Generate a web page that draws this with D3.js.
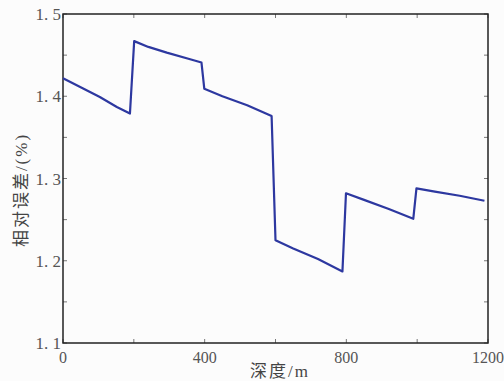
<!DOCTYPE html>
<html>
<head>
<meta charset="utf-8">
<script src="https://cdn.jsdelivr.net/npm/d3@7"></script>
<style>
  html, body { margin: 0; padding: 0; background: #fcfcfc; }
  svg { display: block; }
  text { white-space: pre; }
</style>
</head>
<body>
<svg id="chart"></svg>
<script>
// depth (m) and relative error (%)
const depth = [0, 104, 152, 189, 201, 241, 293, 359, 391, 399, 450, 520, 589, 600, 650, 720, 789, 799, 850, 920, 989, 998, 1050, 1120, 1190];
const relErr = [1.422, 1.399, 1.387, 1.379, 1.467, 1.460, 1.453, 1.445, 1.441, 1.409, 1.400, 1.389, 1.376, 1.225, 1.215, 1.202, 1.187, 1.282, 1.274, 1.263, 1.251, 1.288, 1.284, 1.279, 1.273];

const xTicks = [0, 200, 400, 600, 800, 1000, 1200];
const xLabels = [0, 400, 800, 1200];
const yTicks = [1.1, 1.15, 1.2, 1.25, 1.3, 1.35, 1.4, 1.45, 1.5];
const yLabels = [1.1, 1.2, 1.3, 1.4, 1.5];

const W = 504, H = 381;
const margin = { top: 14, right: 16, bottom: 38, left: 63 };
const serif = "'Liberation Serif', 'Noto Sans CJK SC', serif";

const svg = d3.select("#chart").attr("width", W).attr("height", H);

const x = d3.scaleLinear().domain([0, 1200]).range([margin.left, W - margin.right]);
const y = d3.scaleLinear().domain([1.1, 1.5]).range([H - margin.bottom, margin.top]);

// inward ticks on all four sides
const tickLen = 4;
const ticks = svg.append("g").attr("stroke", "#777").attr("stroke-width", 1);
ticks.selectAll(".xb").data(xTicks).join("line")
  .attr("x1", (d) => x(d)).attr("x2", (d) => x(d))
  .attr("y1", y(1.1)).attr("y2", y(1.1) - tickLen);
ticks.selectAll(".xt").data(xTicks).join("line")
  .attr("x1", (d) => x(d)).attr("x2", (d) => x(d))
  .attr("y1", y(1.5)).attr("y2", y(1.5) + tickLen);
ticks.selectAll(".yl").data(yTicks).join("line")
  .attr("y1", (d) => y(d)).attr("y2", (d) => y(d))
  .attr("x1", x(0)).attr("x2", x(0) + tickLen);
ticks.selectAll(".yr").data(yTicks).join("line")
  .attr("y1", (d) => y(d)).attr("y2", (d) => y(d))
  .attr("x1", x(1200)).attr("x2", x(1200) - tickLen);

// frame
svg.append("rect")
  .attr("x", x(0)).attr("y", y(1.5))
  .attr("width", x(1200) - x(0)).attr("height", y(1.1) - y(1.5))
  .attr("fill", "none").attr("stroke", "#222").attr("stroke-width", 1.5);

// tick labels
svg.append("g").selectAll("text").data(xLabels).join("text")
  .attr("x", (d) => x(d)).attr("y", y(1.1) + 20)
  .attr("text-anchor", "middle")
  .attr("font-family", serif).attr("font-size", 16).attr("fill", "#555")
  .text((d) => d);

svg.append("g").selectAll("text").data(yLabels).join("text")
  .attr("x", x(0) - 2).attr("y", (d) => y(d) + 6)
  .attr("text-anchor", "end")
  .attr("font-family", serif).attr("font-size", 17).attr("fill", "#555")
  .text((d) => d3.format(".1f")(d).replace(".", ". "));

// axis titles
svg.append("text")
  .attr("x", 280).attr("y", 377)
  .attr("text-anchor", "middle")
  .attr("font-family", serif).attr("font-size", 17).attr("letter-spacing", 2).attr("fill", "#444")
  .text("深度/m");

svg.append("text")
  .attr("transform", `translate(27, 190) rotate(-90)`)
  .attr("text-anchor", "middle")
  .attr("font-family", serif).attr("font-size", 17).attr("letter-spacing", 2).attr("fill", "#444")
  .text("相对误差/(%)");

// data line
const line = d3.line().x((d, i) => x(depth[i])).y((d) => y(d));
svg.append("path")
  .datum(relErr)
  .attr("fill", "none")
  .attr("stroke", "#2d38a0")
  .attr("stroke-width", 2.2)
  .attr("stroke-linejoin", "round")
  .attr("d", line);
</script>
</body>
</html>
